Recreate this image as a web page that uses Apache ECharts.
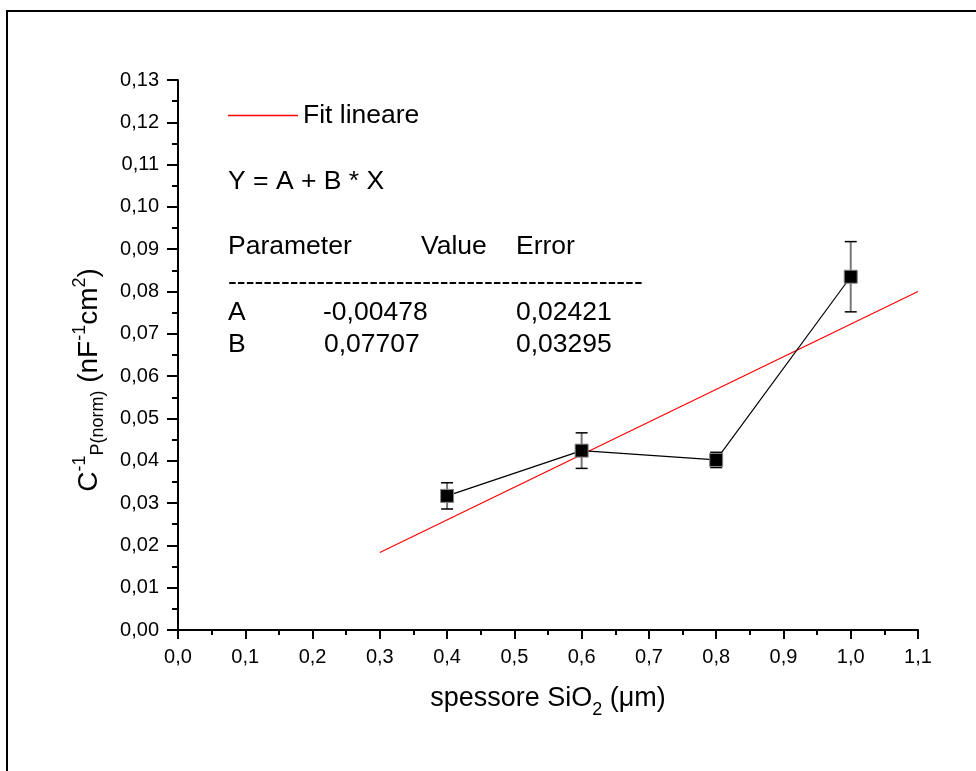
<!DOCTYPE html>
<html><head><meta charset="utf-8">
<script src="https://cdn.jsdelivr.net/npm/echarts@6/dist/echarts.min.js"></script>
<style>html,body{margin:0;padding:0;background:#fff}#c{width:976px;height:771px}</style>
</head><body><div id="c"></div>
<script>
// ---- data ----
const xValues = [0.4, 0.6, 0.8, 1.0];
const yValues = [0.0317, 0.0424, 0.0402, 0.0835];
const yErrors = [0.0031, 0.0042, 0.0018, 0.0083];
const fitX = [0.3, 1.1];
const fitY = [0.0183, 0.0800];
const fitName = 'Fit lineare';
const equationText = 'Y = A + B * X';
const tableHeader = ['Parameter', 'Value', 'Error'];
const paramNames = ['A', 'B'];
const paramValues = ['-0,00478', '0,07707'];
const paramErrors = ['0,02421', '0,03295'];

const FONT = '"Liberation Sans", Arial, sans-serif';
const measureCtx = document.createElement('canvas').getContext('2d');
function tw(t, s) { measureCtx.font = s + 'px ' + FONT; return measureCtx.measureText(t).width; }

function richRun(parts) {
  const total = parts.reduce((a, p) => a + tw(p.t, p.s), 0);
  let x = -total / 2;
  return parts.map(p => {
    const w = tw(p.t, p.s);
    const el = { type: 'text', x: x, y: p.dy - 0.31 * p.s,
      style: { text: p.t, font: p.s + 'px ' + FONT, fill: '#000', align: 'left', verticalAlign: 'middle' } };
    x += w;
    return el;
  });
}

const YM = 28, YS = 18;
const yTitleParts = [
  { t: 'C', s: YM, dy: 0 }, { t: '-1', s: YS, dy: -12 }, { t: 'P(norm)', s: YS, dy: 6 },
  { t: ' (nF', s: YM, dy: 0 }, { t: '-1', s: YS, dy: -12 }, { t: 'cm', s: YM, dy: 0 },
  { t: '2', s: YS, dy: -12 }, { t: ')', s: YM, dy: 0 }
];
const XM = 27, XS = 18;
const xTitleParts = [
  { t: 'spessore SiO', s: XM, dy: 0 }, { t: '2', s: XS, dy: 9 }, { t: ' (\u03bcm)', s: XM, dy: 0 }
];

const TM = 26.5;
function txt(t, x, y) {
  return { type: 'text', x: x, y: y, style: { text: t, font: TM + 'px ' + FONT, fill: '#000', align: 'left', verticalAlign: 'middle' } };
}

const chart = echarts.init(document.getElementById('c'), null, { renderer: 'canvas' });

const errData = xValues.map((x, i) => [x, yValues[i] - yErrors[i], yValues[i] + yErrors[i]]);

const option = {
  animation: false,
  backgroundColor: '#fff',
  textStyle: { fontFamily: FONT },
  grid: { left: 178, right: 58, top: 80, bottom: 141, containLabel: false },
  legend: {
    left: 228, top: 102, padding: 0, itemWidth: 70, itemHeight: 1.5, itemGap: 5,
    textStyle: { fontSize: TM, color: '#000', fontFamily: FONT },
    data: [{ name: fitName, icon: 'rect' }]
  },
  xAxis: {
    type: 'value', min: 0, max: 1.1, interval: 0.1,
    axisLine: { show: true, onZero: false, lineStyle: { color: '#000', width: 2 } },
    axisTick: { show: true, inside: false, length: 9, lineStyle: { color: '#000', width: 2 } },
    minorTick: { show: true, splitNumber: 2, length: 5, lineStyle: { color: '#000', width: 2 } },
    splitLine: { show: false },
    axisLabel: { margin: 17, fontSize: 20, color: '#000', fontFamily: FONT,
      formatter: v => v.toFixed(1).replace('.', ',') }
  },
  yAxis: {
    type: 'value', min: 0, max: 0.13, interval: 0.01,
    axisLine: { show: true, onZero: false, lineStyle: { color: '#000', width: 2 } },
    axisTick: { show: true, inside: false, length: 11, lineStyle: { color: '#000', width: 2 } },
    minorTick: { show: true, splitNumber: 2, length: 6, lineStyle: { color: '#000', width: 2 } },
    splitLine: { show: false },
    axisLabel: { margin: 19, fontSize: 20, color: '#000', fontFamily: FONT,
      formatter: v => v.toFixed(2).replace('.', ',') }
  },
  series: [
    {
      name: fitName, type: 'line', data: fitX.map((x, i) => [x, fitY[i]]),
      showSymbol: false, symbol: 'none', lineStyle: { color: '#ff0000', width: 1.2 },
      itemStyle: { color: '#ff0000' }, z: 3
    },
    {
      name: 'dati', type: 'line', data: xValues.map((x, i) => [x, yValues[i]]),
      symbol: 'rect', symbolSize: 13, showSymbol: true,
      lineStyle: { color: '#000', width: 1.2 },
      itemStyle: { color: '#000', borderColor: '#888', borderWidth: 1 }, z: 5
    },
    {
      name: 'err', type: 'custom', data: errData, z: 4,
      renderItem: function (params, api) {
        const x = api.value(0);
        const lo = api.coord([x, api.value(1)]);
        const hi = api.coord([x, api.value(2)]);
        const c = 6;
        return {
          type: 'group',
          children: [
            { type: 'line', shape: { x1: lo[0], y1: lo[1], x2: hi[0], y2: hi[1] }, style: { stroke: '#777', lineWidth: 2 } },
            { type: 'line', shape: { x1: lo[0] - c, y1: lo[1], x2: lo[0] + c, y2: lo[1] }, style: { stroke: '#000', lineWidth: 1.5 } },
            { type: 'line', shape: { x1: hi[0] - c, y1: hi[1], x2: hi[0] + c, y2: hi[1] }, style: { stroke: '#000', lineWidth: 1.5 } }
          ]
        };
      }
    }
  ],
  graphic: [
    { type: 'line', shape: { x1: 7, y1: 11, x2: 7, y2: 771 }, style: { stroke: '#000', lineWidth: 2 } },
    { type: 'line', shape: { x1: 6, y1: 11, x2: 976, y2: 11 }, style: { stroke: '#000', lineWidth: 2 } },
    txt(equationText, 228, 182),
    txt(tableHeader[0], 228, 247),
    txt(tableHeader[1], 421, 247),
    txt(tableHeader[2], 516, 247),
    txt('-----------------------------------------------', 228, 283),
    txt(paramNames[0], 228, 313),
    txt(paramValues[0], 323, 313),
    txt(paramErrors[0], 516, 313),
    txt(paramNames[1], 228, 345),
    txt(paramValues[1], 324, 345),
    txt(paramErrors[1], 516, 345),
    { type: 'group', x: 548, y: 707, children: richRun(xTitleParts) },
    { type: 'group', x: 98, y: 380, rotation: Math.PI / 2, children: richRun(yTitleParts) }
  ]
};
chart.setOption(option);
</script>
</body></html>
